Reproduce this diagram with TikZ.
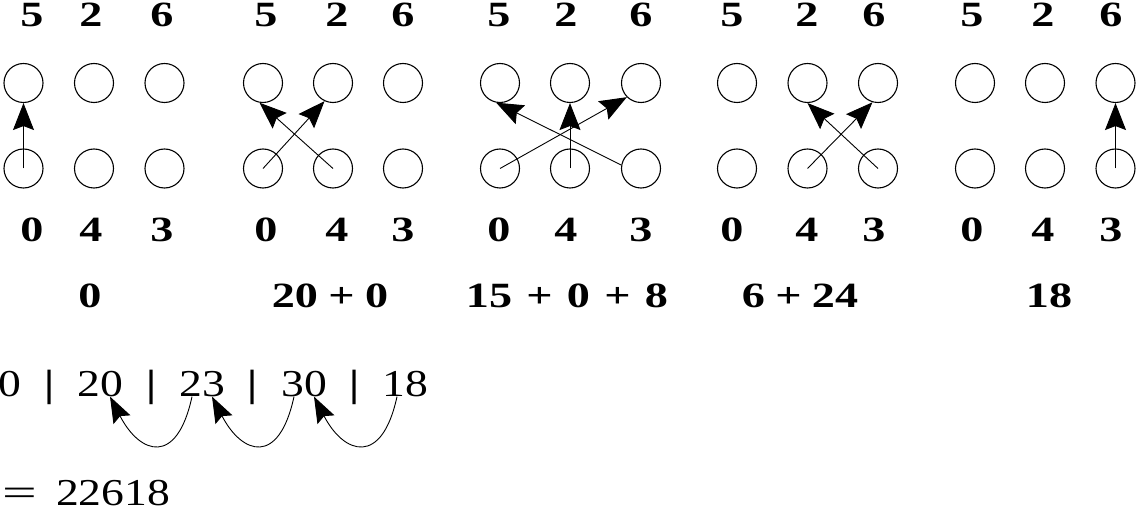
\documentclass[tikz,border=0pt]{standalone}
\usepackage{fontspec}
\setmainfont{Liberation Serif}
\usepackage{graphicx}
\usetikzlibrary{arrows.meta}
\newcommand{\BD}[1]{\scalebox{1.3}[1]{\fontsize{35.5}{40}\selectfont\bfseries #1}}
\newcommand{\RG}[1]{\scalebox{1.2}[1]{\fontsize{38}{44}\selectfont #1}}
\begin{document}
\begin{tikzpicture}[x=1pt,y=-1pt,
  dot/.style={circle,draw,line width=1.1pt,minimum size=39pt,inner sep=0pt},
  arr/.style={line width=0.9pt,-{Stealth[length=27pt,width=21pt,inset=4pt]}},
  carr/.style={line width=0.9pt,-{Stealth[length=26pt,width=19pt,inset=4pt]}},
  lbl/.style={anchor=base,inner sep=0pt},
  num/.style={anchor=base,inner sep=0pt}]
\useasboundingbox (0,0) rectangle (1136,513);
% ---- circles
\foreach \g/\xa/\xb/\xc in {1/23.5/94/164.5, 2/263/333/403, 3/500/570/641, 4/737/807.5/878, 5/975/1045/1115.5}{
  \node[dot] (t\g a) at (\xa,83) {};
  \node[dot] (t\g b) at (\xb,83) {};
  \node[dot] (t\g c) at (\xc,83) {};
  \node[dot] (b\g a) at (\xa,168.5) {};
  \node[dot] (b\g b) at (\xb,168.5) {};
  \node[dot] (b\g c) at (\xc,168.5) {};
}
% ---- digit labels
\foreach \g/\xa/\xb/\xc in {1/32/91/162, 2/266/337/403, 3/499/566/641, 4/732/807/874, 5/972/1043/1111}{
  \node[lbl] (u\g a) at (\xa,27) {\BD{5}};
  \node[lbl] (u\g b) at (\xb,27) {\BD{2}};
  \node[lbl] (u\g c) at (\xc,27) {\BD{6}};
  \node[lbl] (d\g a) at (\xa,242) {\BD{0}};
  \node[lbl] (d\g b) at (\xb,242) {\BD{4}};
  \node[lbl] (d\g c) at (\xc,242) {\BD{3}};
}
% ---- sums
\node[lbl] (s1) at (90,308) {\BD{0}};
\node[lbl] (s2) at (330,308) {\BD{20\hspace{8pt}+\hspace{8pt}0}};
\node[lbl] (s3) at (567,308) {\BD{15\hspace{11pt}+\hspace{11pt}0\hspace{11pt}+\hspace{11pt}8}};
\node[lbl] (s4) at (800,308) {\BD{6\hspace{8pt}+\hspace{8pt}24}};
\node[lbl] (s5) at (1049,308) {\BD{18}};
% ---- arrows
\draw[arr] (b1a.center) -- (t1a.south);
\draw[arr] (b2a.center) -- (t2b.-115);
\draw[arr] (b2b.center) -- (t2a.-100);
\draw[arr] (b3a.center) -- (t3c.-135);
\draw[arr] (b3b.center) -- (t3b.south);
\draw[arr] (b3c.170) -- (t3a.-101);
\draw[arr] (b4b.center) -- (t4c.-106);
\draw[arr] (b4c.center) -- (t4b.south);
\draw[arr] (b5c.center) -- (t5c.south);
% ---- bottom row
\node[num] (n0) at (10,396) {\RG{0}};
\node[num] (p1) at (50,396) {\RG{\bfseries |}};
\node[num] (n20) at (100,396) {\RG{20}};
\node[num] (p2) at (152,396) {\RG{\bfseries |}};
\node[num] (n23) at (202,396) {\RG{23}};
\node[num] (p3) at (253,396) {\RG{\bfseries |}};
\node[num] (n30) at (304,396) {\RG{30}};
\node[num] (p4) at (355,396) {\RG{\bfseries |}};
\node[num] (n18) at (405,396) {\RG{18}};
\draw[carr] ([xshift=-10pt]n23.south) .. controls +(-15,70) and +(30,58) .. ([xshift=10pt]n20.south);
\draw[carr] ([xshift=-10pt]n30.south) .. controls +(-15,70) and +(30,58) .. ([xshift=10pt]n23.south);
\draw[carr] ([xshift=-8pt]n18.south) .. controls +(-15,70) and +(30,58) .. ([xshift=10pt]n30.south);
\node[num,anchor=base west] (res) at (2,505) {\RG{\scalebox{1.35}[1]{=}\hspace{16pt}22618}};
\end{tikzpicture}
\end{document}
